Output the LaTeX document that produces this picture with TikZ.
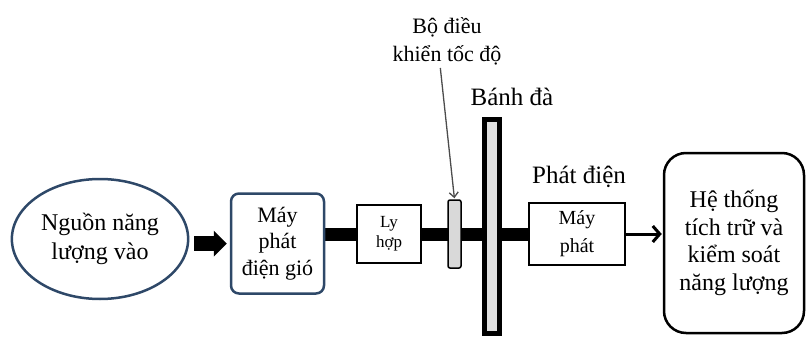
\documentclass[tikz,border=0pt]{standalone}
\usepackage{fontspec}
\setmainfont{Liberation Serif}
\usetikzlibrary{arrows.meta,shapes.geometric,backgrounds}
\definecolor{rimblue}{HTML}{2E4868}

\begin{document}
\begin{tikzpicture}[
  x=1pt, y=-1pt,
  box/.style   = {
    draw, fill=white,
    align=center,
    inner sep=0pt,
    line width=2pt
  },
  label/.style = {align=center, inner sep=0pt},
  shaft/.style = {line width=13pt},
  fat/.style   = {
    line width=15pt,
    -{Triangle[length=13pt,width=26pt,line width=0pt]},
    shorten <=5pt, shorten >=3pt
  },
  pointer/.style = {
    draw=black!70, line width=1.3pt,
    -{Straight Barb[length=5pt,width=9pt]},
    shorten <=3pt, shorten >=1pt
  }
]

% ---- constants ----
\def\sy{234}          % height of the drive shaft

\useasboundingbox (0,0) rectangle (807,340);

% ---- nodes ----
\node[ellipse, draw=rimblue, line width=2.5pt,
      minimum width=172pt, minimum height=120pt,
      align=center, font=\fontsize{24}{29}\selectfont] (src) at (100,239)
  {Nguồn năng\\lượng vào};

\node[box, draw=rimblue, line width=2.5pt, rounded corners=8pt,
      minimum width=93pt, minimum height=100pt,
      font=\fontsize{22}{26.5}\selectfont] (wind) at (277.5,243.5)
  {Máy\\phát\\điện gió};

\node[box, minimum width=64pt, minimum height=58pt,
      font=\fontsize{17}{20}\selectfont] (clutch) at (389,\sy)
  {Ly\\hợp};

\node[box, line width=1.5pt, rounded corners=2pt, fill=black!15,
      minimum width=13pt, minimum height=68pt] (ctrl) at (454.5,\sy) {};

\node[box, line width=5pt, fill=black!12,
      minimum width=15pt, minimum height=214pt] (fly) at (492,226.5) {};

\node[box, minimum width=96pt, minimum height=62pt,
      font=\fontsize{20}{28}\selectfont] (gen) at (577,\sy)
  {Máy\\phát};

\node[box, line width=2.5pt, rounded corners=22pt,
      minimum width=140pt, minimum height=180pt,
      font=\fontsize{24}{27.5}\selectfont] (store) at (734,243)
  {Hệ thống\\tích trữ và\\kiểm soát\\năng lượng};

% ---- labels ----
\node[label, font=\fontsize{22}{28}\selectfont] (ctrlLbl) at (447,41)
  {Bộ điều\\khiển tốc độ};
\node[label, anchor=base, font=\fontsize{25}{30}\selectfont] (flyLbl) at (512,105)
  {Bánh đà};
\node[label, anchor=base, font=\fontsize{25}{30}\selectfont] (genLbl) at (579,183)
  {Phát điện};

% ---- connectors ----
\begin{scope}[on background layer]
  \draw[shaft] (wind.east |- clutch) -- (gen.west);
\end{scope}

\draw[fat] (src.east |- wind.west) -- (wind.west);

\draw[line width=3pt, -{Straight Barb[length=7pt,width=16pt]}, shorten >=1pt]
  (gen.east) -- (gen.east -| store.west);

\draw[pointer] ([xshift=-7pt]ctrlLbl.south) -- (ctrl.north);

\end{tikzpicture}
\end{document}
